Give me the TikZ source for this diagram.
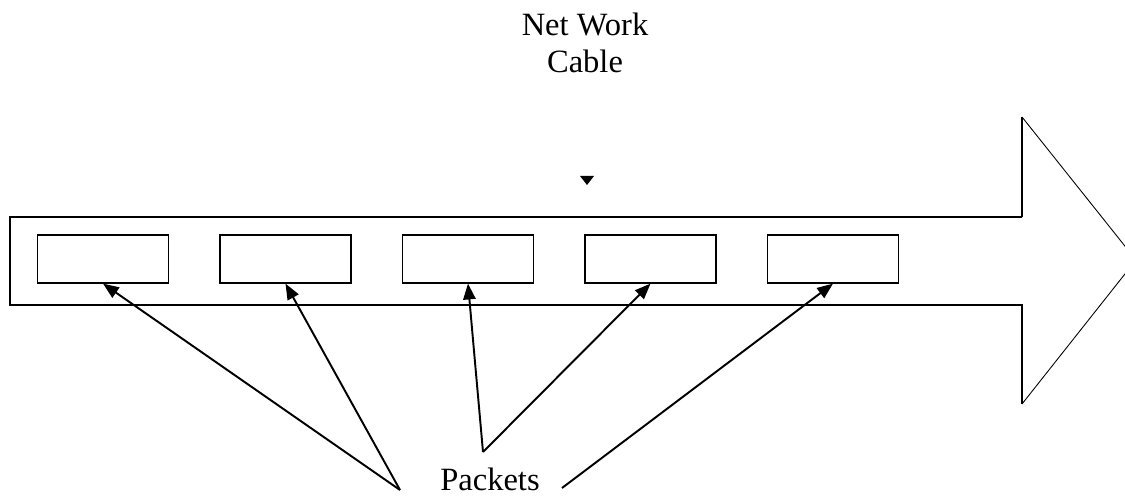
\documentclass[tikz,border=0pt]{standalone}
\usepackage{fontspec}
\setmainfont{Liberation Serif}
\usetikzlibrary{arrows.meta,positioning}
\tikzset{>={Triangle[length=9pt,width=7pt]},
  every node/.style={font=\fontsize{18.5}{21.5}\selectfont},
  cable/.style={draw,line width=1.2pt},
  headline/.style={draw,line width=.5pt},
  packet/.style={draw,line width=.7pt,minimum width=2.62cm,minimum height=.96cm,inner sep=0pt},
  pointer/.style={->,line width=1.1pt}}

\begin{document}
\begin{tikzpicture}
\clip (0,0) rectangle (22.5,9.94);
% the cable, drawn as a wide arrow
\draw[cable] (20.44,5.6) -- (0.2,5.6) -- (0.2,3.84) -- (20.44,3.84) -- (20.44,1.86);
\draw[cable] (20.44,5.6) -- (20.44,7.6);
\draw[headline] (20.44,7.6) -- (22.72,4.74) -- (20.44,1.86);
% packets travelling along it
\foreach \i in {1,...,5}
  \node[packet] (p\i) at ({2.06+3.65*(\i-1)},4.76) {};
\node[align=center] (cablelabel) at (11.7,9.08) {Net Work\\Cable};
\fill (11.6,6.42) -- (11.88,6.42) -- (11.74,6.24) -- cycle;
\node[inner sep=0pt,anchor=base] (packets) at (9.8,0.12) {Packets};
\coordinate (a) at (8.0,0.14);
\coordinate (b) at (9.66,0.9);
\coordinate (c) at (11.24,0.18);
\draw[pointer] (a) -- (p1.south);
\draw[pointer] (a) -- (p2.south);
\draw[pointer] (b) -- (p3.south);
\draw[pointer] (b) -- (p4.south);
\draw[pointer] (c) -- (p5.south);
\end{tikzpicture}
\end{document}
